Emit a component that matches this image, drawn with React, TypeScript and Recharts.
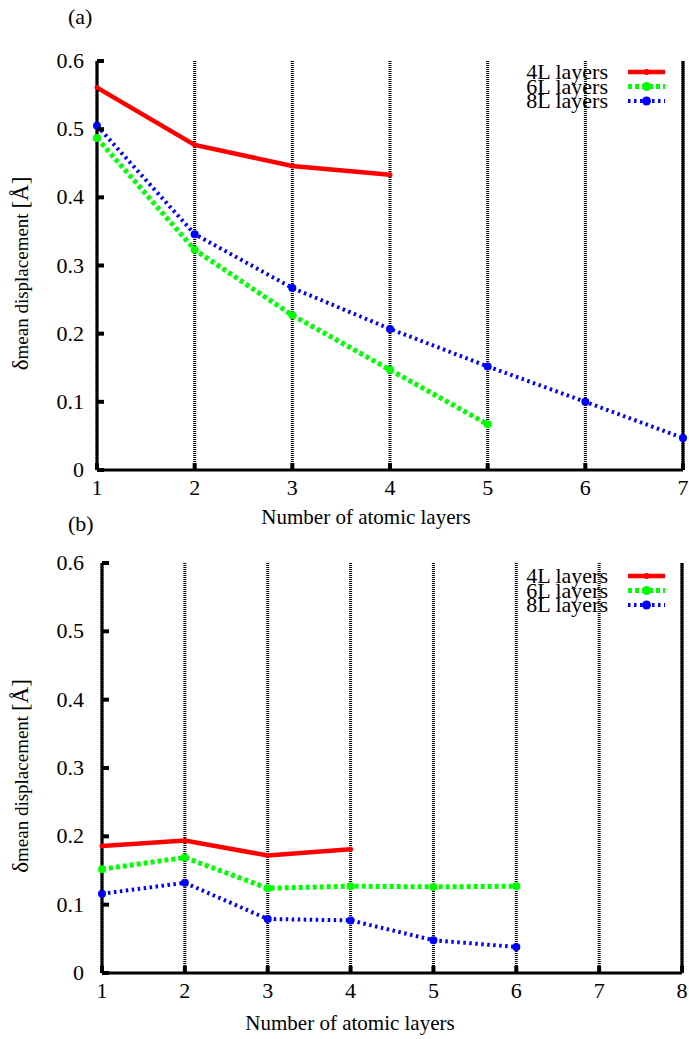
import React from "react";
import { LineChart, Line, XAxis, YAxis, CartesianGrid, Legend } from "recharts";

// panel (a)
const layersA = [1, 2, 3, 4, 5, 6, 7];
const a4L = [0.561, 0.477, 0.446, 0.433];
const a6L = [0.487, 0.323, 0.227, 0.147, 0.067];
const a8L = [0.505, 0.346, 0.267, 0.207, 0.152, 0.1, 0.047];

// panel (b)
const layersB = [1, 2, 3, 4, 5, 6, 7, 8];
const b4L = [0.186, 0.194, 0.172, 0.181];
const b6L = [0.152, 0.169, 0.124, 0.127, 0.126, 0.127];
const b8L = [0.116, 0.132, 0.079, 0.077, 0.048, 0.038];

const yTicks = [0, 0.1, 0.2, 0.3, 0.4, 0.5, 0.6];
const seriesNames = ["4L layers", "6L layers", "8L layers"];
const xTitle = "Number of atomic layers";

const FONT = "Liberation Serif, Times New Roman, serif";
const serif: React.CSSProperties = { fontFamily: FONT };

const STYLES = [
  { key: "l4", color: "#ff0000", width: 4.5, dash: undefined as string | undefined, r: 2.5 },
  { key: "l6", color: "#00ff00", width: 5, dash: "4 3", r: 4 },
  { key: "l8", color: "#0000ff", width: 4, dash: "2.5 3.5", r: 4 },
];

function buildRows(xs: number[], cols: number[][]) {
  return xs.map((x, i) => ({ x, l4: cols[0][i], l6: cols[1][i], l8: cols[2][i] }));
}

const fmt = (v: number) => (v === 0 ? "0" : String(v));

type PanelProps = {
  rows: any[];
  xTicks: number[];
  height: number;
  top: number;
  leftW: number;
  rightW: number;
  xAxisH: number;
  yGap: number;
  titleX: number;
  titleDy: number;
  legendTop: number;
};

function Panel(p: PanelProps) {
  const LeftTick = (t: any) => (
    <g>
      <text x={t.x - p.yGap} y={t.y} dy={7} textAnchor="end" fontSize={22} style={serif} fill="#000">
        {fmt(t.payload.value)}
      </text>
      <line x1={t.x} x2={t.x + 7} y1={t.y} y2={t.y} stroke="#000" strokeWidth={4} />
    </g>
  );
  const RightTick = (t: any) => (
    <line x1={t.x - 7} x2={t.x} y1={t.y} y2={t.y} stroke="#000" strokeWidth={4} />
  );
  const BottomTick = (t: any) => (
    <g>
      <text x={t.x} y={t.y + 25} textAnchor="middle" fontSize={22} style={serif} fill="#000">
        {t.payload.value}
      </text>
      <line x1={t.x} x2={t.x} y1={t.y} y2={t.y - 7} stroke="#000" strokeWidth={4} />
    </g>
  );
  const TopTick = (t: any) => (
    <line x1={t.x} x2={t.x} y1={t.y} y2={t.y + 7} stroke="#000" strokeWidth={4} />
  );
  const YTitle = (l: any) => {
    const vb = l.viewBox;
    const cx = vb.x + 28;
    const cy = vb.y + vb.height / 2 + 8;
    return (
      <text x={cx} y={cy} transform={`rotate(-90 ${cx} ${cy})`} textAnchor="middle" style={serif} fill="#000">
        <tspan fontSize={23}>δ</tspan>
        <tspan fontSize={19}>mean displacement </tspan>
        <tspan fontSize={23}>[Å]</tspan>
      </text>
    );
  };
  const XTitle = (l: any) => (
    <text x={p.titleX} y={l.viewBox.y + p.titleDy} textAnchor="middle" fontSize={21} style={serif} fill="#000">
      {xTitle}
    </text>
  );
  const LegendBox = () => (
    <svg width={210} height={50} style={{ overflow: "visible" }}>
      {STYLES.map((s, i) => {
        const cy = 9 + i * 14.5;
        return (
          <g key={s.key}>
            <text x={138} y={cy + 7} textAnchor="end" fontSize={22} style={serif} fill="#000">
              {seriesNames[i]}
            </text>
            <line x1={158} x2={195} y1={cy} y2={cy} stroke={s.color} strokeWidth={s.width} strokeDasharray={s.dash} />
            <circle cx={176.5} cy={cy} r={s.r + 0.5} fill={s.color} />
          </g>
        );
      })}
    </svg>
  );

  const xMax = p.xTicks[p.xTicks.length - 1];
  return (
    <LineChart
      width={689}
      height={p.height}
      data={p.rows}
      margin={{ top: p.top, right: 0, bottom: 0, left: 0 }}
      style={serif}
    >
      <CartesianGrid horizontal={false} stroke="#000" strokeWidth={3} strokeDasharray="1 1" />
      <XAxis
        dataKey="x"
        type="number"
        domain={[1, xMax]}
        ticks={p.xTicks}
        height={p.xAxisH}
        tickSize={0}
        tickMargin={0}
        tick={<BottomTick />}
        axisLine={{ stroke: "#000", strokeWidth: 3 }}
        label={<XTitle />}
      />
      <XAxis
        xAxisId="t"
        dataKey="x"
        type="number"
        orientation="top"
        domain={[1, xMax]}
        ticks={p.xTicks}
        height={0}
        tickSize={0}
        tickMargin={0}
        tick={<TopTick />}
        axisLine={{ stroke: "#000", strokeWidth: 3 }}
      />
      <YAxis
        type="number"
        domain={[0, 0.6]}
        ticks={yTicks}
        width={p.leftW}
        tickSize={0}
        tickMargin={0}
        tick={<LeftTick />}
        axisLine={{ stroke: "#000", strokeWidth: 3 }}
        label={<YTitle />}
      />
      <YAxis
        yAxisId="r"
        orientation="right"
        type="number"
        domain={[0, 0.6]}
        ticks={yTicks}
        width={p.rightW}
        tickSize={0}
        tickMargin={0}
        tick={<RightTick />}
        axisLine={{ stroke: "#000", strokeWidth: 3 }}
      />
      <Legend
        layout="vertical"
        align="center"
        verticalAlign="middle"
        content={<LegendBox />}
        wrapperStyle={{ left: 470, top: p.legendTop, width: 210, height: 50 }}
      />
      {STYLES.map((s, i) => (
        <Line
          key={s.key}
          type="linear"
          dataKey={s.key}
          name={seriesNames[i]}
          stroke={s.color}
          strokeWidth={s.width}
          strokeDasharray={s.dash}
          dot={{ r: s.r, fill: s.color, stroke: s.color, strokeWidth: 0, strokeDasharray: "" }}
          isAnimationActive={false}
        />
      ))}
    </LineChart>
  );
}

export default function App() {
  const rowsA = buildRows(layersA, [a4L, a6L, a8L]);
  const rowsB = buildRows(layersB, [b4L, b6L, b8L]);
  const tag: React.CSSProperties = {
    position: "absolute",
    left: 68,
    fontSize: 22,
    lineHeight: "22px",
    fontFamily: FONT,
  };
  return (
    <div style={{ position: "absolute", left: 0, top: 0, width: 689, height: 1039, background: "#fff", fontFamily: FONT }}>
      <div style={{ position: "absolute", left: 0, top: 0 }}>
        <Panel
          rows={rowsA}
          xTicks={layersA}
          height={540}
          top={61}
          leftW={97}
          rightW={6}
          xAxisH={70}
          yGap={13}
          titleX={366}
          titleDy={54}
          legendTop={63}
        />
      </div>
      <div style={{ position: "absolute", left: 0, top: 520 }}>
        <Panel
          rows={rowsB}
          xTicks={layersB}
          height={519}
          top={43}
          leftW={102}
          rightW={7}
          xAxisH={66}
          yGap={18}
          titleX={350}
          titleDy={57}
          legendTop={47}
        />
      </div>
      <div style={{ ...tag, top: 6 }}>(a)</div>
      <div style={{ ...tag, top: 513 }}>(b)</div>
    </div>
  );
}
